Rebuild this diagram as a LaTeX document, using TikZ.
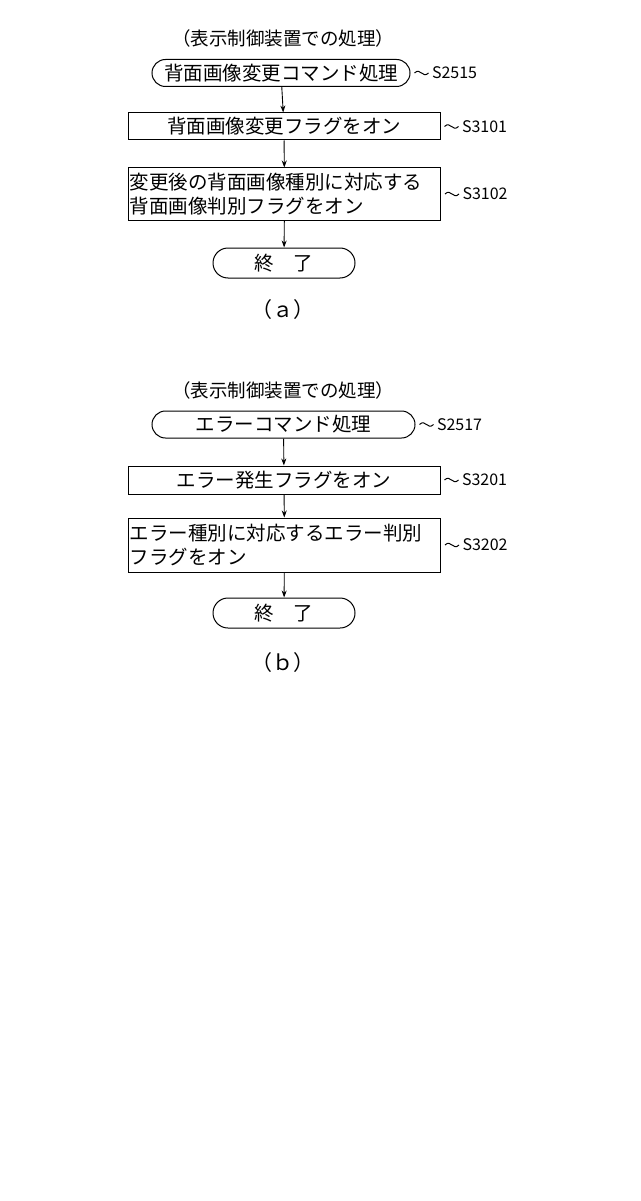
\documentclass[tikz,border=0pt]{standalone}
\usepackage{fontspec}
\setmainfont{Noto Sans CJK JP}
\usetikzlibrary{shapes.misc,arrows.meta}
\begin{document}
\begin{tikzpicture}[x=1pt,y=-1pt,
  every node/.style={font=\fontsize{19.5}{24}\selectfont},
  term/.style={draw,rounded rectangle,minimum height=27pt,inner sep=0pt,line width=1pt},
  proc/.style={draw,rectangle,inner sep=0pt,line width=1pt},
  lab/.style={anchor=west,font=\fontsize{16}{18}\selectfont},
  arr/.style={-{Stealth[length=7pt,width=5pt]},line width=0.9pt},
  lead/.style={line width=1pt}]
\useasboundingbox (0,0) rectangle (640,1201);
\newcommand{\leadto}[2]{\draw[lead] (#1.east) ++(4,0) .. controls +(6,-6) and +(-6,6) .. ++(14,0) coordinate (#2);}
% (a)
\node (ta) at (283,38) {\fontsize{18.5}{22}\selectfont（表示制御装置での処理）};
\node[term,minimum width=258pt] (a0) at (281,73) {背面画像変更コマンド処理};
\node[proc,minimum width=312pt,minimum height=27pt] (a1) at (284,126.5) {背面画像変更フラグをオン};
\node[proc,text width=310pt,inner xsep=1pt,minimum height=52pt,align=left,anchor=west] (a2) at (128,194) {変更後の背面画像種別に対応する\\背面画像判別フラグをオン};
\node[term,minimum width=142pt,minimum height=30pt] (a3) at (284,263) {終\quad 了};
\node (ca) at (283,310) {\fontsize{21}{22}\selectfont （ａ）};
\draw[arr] (a0) -- (a1); \draw[arr] (a1) -- (a2); \draw[arr] (a2) -- (a3);
\leadto{a0}{la0}\node[lab] at (la0) {S2515};
\leadto{a1}{la1}\node[lab] at (la1) {S3101};
\leadto{a2}{la2}\node[lab] at (la2) {S3102};
% (b)
\node (tb) at (283,390) {\fontsize{18.5}{22}\selectfont（表示制御装置での処理）};
\node[term,minimum width=263pt] (b0) at (283.5,424.5) {エラーコマンド処理};
\node[proc,minimum width=312pt,minimum height=28pt] (b1) at (284,480) {エラー発生フラグをオン};
\node[proc,text width=310pt,inner xsep=1pt,minimum height=54pt,align=left,anchor=west] (b2) at (128,545) {エラー種別に対応するエラー判別\\フラグをオン};
\node[term,minimum width=142pt,minimum height=30pt] (b3) at (284,613) {終\quad 了};
\node (cb) at (283,663) {\fontsize{21}{22}\selectfont （ｂ）};
\draw[arr] (b0) -- (b1); \draw[arr] (b1) -- (b2); \draw[arr] (b2) -- (b3);
\leadto{b0}{lb0}\node[lab] at (lb0) {S2517};
\leadto{b1}{lb1}\node[lab] at (lb1) {S3201};
\leadto{b2}{lb2}\node[lab] at (lb2) {S3202};
\end{tikzpicture}
\end{document}
